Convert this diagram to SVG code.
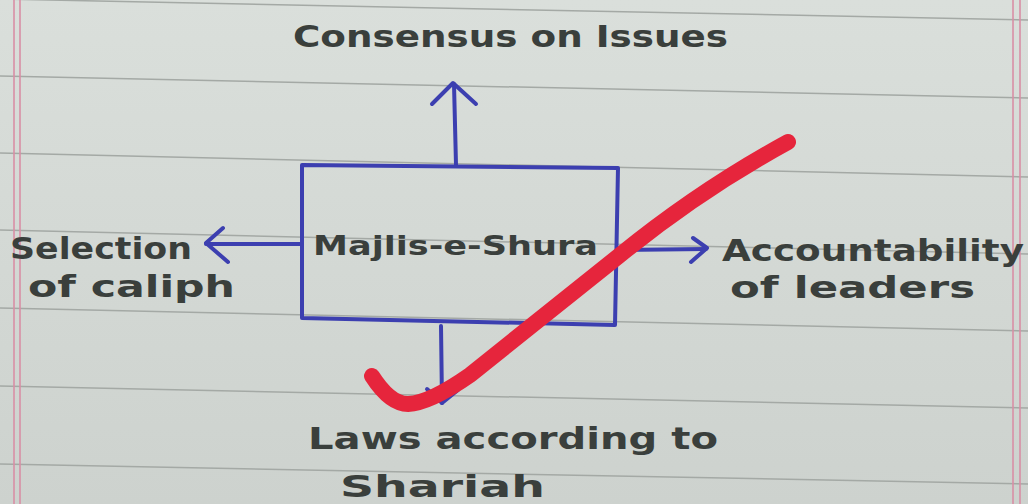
<svg xmlns="http://www.w3.org/2000/svg" width="1028" height="504" viewBox="0 0 1028 504">
  <defs>
    <style>
      .rule { stroke: #a4a9a5; stroke-width: 1.5; fill: none; }
      .margin { stroke: #d98fa5; stroke-width: 1.6; fill: none; }
      .ink { stroke: #3c3fb0; stroke-width: 4; fill: none; stroke-linecap: round; stroke-linejoin: round; }
      .label { font-family: "DejaVu Sans", "Liberation Sans", sans-serif; font-weight: bold; fill: #3a3f3c; }
      .big { font-size: 30px; }
      .mid { font-size: 26px; }
      .tick { stroke: #e6253c; stroke-width: 16; fill: none; stroke-linecap: round; stroke-linejoin: round; }
    </style>
    <linearGradient id="shade" x1="0" y1="0" x2="0" y2="1">
      <stop offset="0" stop-color="#dadfdb"/>
      <stop offset="1" stop-color="#cdd2ce"/>
    </linearGradient>
  </defs>

  <rect x="0" y="0" width="1028" height="504" fill="url(#shade)"/>

  <g id="paper-lines">
    <line class="rule" x1="0" y1="-1" x2="1028" y2="20"/>
    <line class="rule" x1="0" y1="76" x2="1028" y2="98"/>
    <line class="rule" x1="0" y1="153" x2="1028" y2="177"/>
    <line class="rule" x1="0" y1="230" x2="1028" y2="254"/>
    <line class="rule" x1="0" y1="308" x2="1028" y2="331"/>
    <line class="rule" x1="0" y1="386" x2="1028" y2="408"/>
    <line class="rule" x1="0" y1="464" x2="1028" y2="484"/>
    <line class="margin" x1="14" y1="0" x2="14" y2="504"/>
    <line class="margin" x1="20" y1="0" x2="20" y2="504"/>
    <line class="margin" x1="1013" y1="0" x2="1013" y2="504"/>
    <line class="margin" x1="1020" y1="0" x2="1020" y2="504"/>
  </g>

  <g id="connectors">
    <path class="ink" d="M456,165 L454,84"/>
    <path class="ink" d="M432,104 L453,83 L476,104"/>
    <path class="ink" d="M302,244 L206,244"/>
    <path class="ink" d="M223,228 L206,243 L228,262"/>
    <path class="ink" d="M618,250 L706,249"/>
    <path class="ink" d="M693,238 L707,248 L691,262"/>
    <path class="ink" d="M441,326 L442,403"/>
    <path class="ink" d="M427,389 L442,403 L458,390"/>
  </g>

  <g id="node-majlis">
    <path class="ink" d="M302,165 L618,168 L615,325 L302,318 Z"/>
    <text class="label mid" x="313" y="255" textLength="285" lengthAdjust="spacingAndGlyphs">Majlis-e-Shura</text>
  </g>

  <g id="node-consensus">
    <text class="label big" x="293" y="47" textLength="435" lengthAdjust="spacingAndGlyphs">Consensus on Issues</text>
  </g>

  <g id="node-selection">
    <text class="label big" x="10" y="259" textLength="182" lengthAdjust="spacingAndGlyphs">Selection</text>
    <text class="label big" x="28" y="297" textLength="207" lengthAdjust="spacingAndGlyphs">of caliph</text>
  </g>

  <g id="node-accountability">
    <text class="label big" x="722" y="261" textLength="302" lengthAdjust="spacingAndGlyphs">Accountability</text>
    <text class="label big" x="730" y="298" textLength="245" lengthAdjust="spacingAndGlyphs">of leaders</text>
  </g>

  <g id="node-laws">
    <text class="label big" x="308" y="449" textLength="410" lengthAdjust="spacingAndGlyphs">Laws according to</text>
    <text class="label big" x="340" y="497" textLength="205" lengthAdjust="spacingAndGlyphs">Shariah</text>
  </g>

  <path class="tick" d="M372,376 Q390,404 408,404 Q430,403 470,375 L620,255 Q700,190 788,142"/>
</svg>
